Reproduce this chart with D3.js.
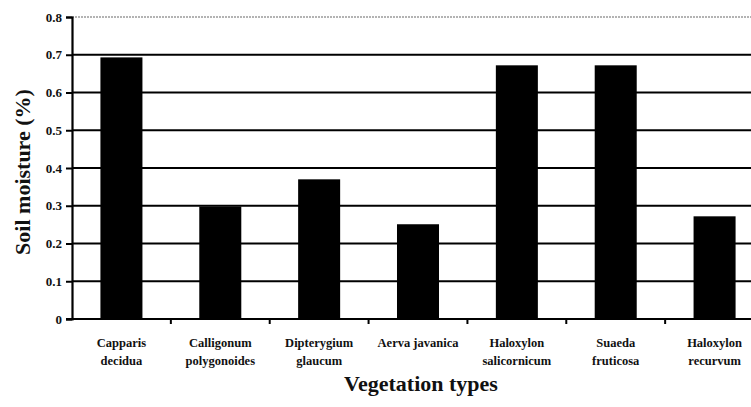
<!DOCTYPE html>
<html>
<head>
<meta charset="utf-8">
<script src="https://cdn.jsdelivr.net/npm/d3@7"></script>
<style>
  body { margin: 0; background: #fff; overflow: hidden; }
  svg { display: block; font-family: "Liberation Serif", "Times New Roman", serif; }
</style>
</head>
<body>
<svg id="chart" width="751" height="407"></svg>
<script>
const categories = [
  ['Capparis', 'decidua'],
  ['Calligonum', 'polygonoides'],
  ['Dipterygium', 'glaucum'],
  ['Aerva javanica'],
  ['Haloxylon', 'salicornicum'],
  ['Suaeda', 'fruticosa'],
  ['Haloxylon', 'recurvum']
];
const moisture = [0.693, 0.298, 0.37, 0.251, 0.672, 0.672, 0.272];
const yTicks = [0, 0.1, 0.2, 0.3, 0.4, 0.5, 0.6, 0.7, 0.8];

const margin = { top: 17, left: 72, bottom: 88 };
const height = 407 - margin.top - margin.bottom;
const plotWidth = 692; // the plot runs past the right edge of the picture

const svg = d3.select('#chart');
const g = svg.append('g')
    .attr('transform', `translate(${margin.left}, ${margin.top})`);

const xScale = d3.scaleBand()
    .domain(d3.range(categories.length))
    .range([0, plotWidth])
    .paddingInner(0.575)
    .paddingOuter(0.2875);

const yScale = d3.scaleLinear()
    .domain([0, 0.8])
    .range([height, 0]);

// grid lines
g.selectAll('.grid')
    .data(yTicks.filter(t => t > 0))
    .enter()
    .append('line')
    .attr('class', 'grid')
    .attr('x1', 0)
    .attr('x2', plotWidth)
    .attr('y1', d => yScale(d))
    .attr('y2', d => yScale(d))
    .attr('stroke', d => d === 0.8 ? '#9a9a9a' : '#000')
    .attr('stroke-width', d => d === 0.8 ? 1.5 : 2)
    .attr('stroke-dasharray', d => d === 0.8 ? '2,1' : null);

// bars
g.selectAll('.bar')
    .data(moisture)
    .enter()
    .append('rect')
    .attr('class', 'bar')
    .attr('x', (d, i) => xScale(i))
    .attr('width', xScale.bandwidth())
    .attr('y', d => yScale(d))
    .attr('height', d => height - yScale(d))
    .attr('fill', '#000');

// y axis
const yAxis = d3.axisLeft(yScale)
    .tickValues(yTicks)
    .tickFormat(d => d === 0 ? '0' : d3.format('.1f')(d))
    .tickSize(6)
    .tickPadding(4);

const yG = g.append('g').call(yAxis);
yG.select('.domain').attr('stroke', '#000').attr('stroke-width', 2.2);
yG.selectAll('.tick line').attr('stroke', '#000').attr('stroke-width', 2);
yG.selectAll('.tick text')
    .attr('font-family', 'Liberation Serif, serif')
    .attr('font-weight', 'bold')
    .attr('font-size', 13)
    .attr('fill', '#111');

// x axis baseline with ticks at category boundaries
g.append('line')
    .attr('x1', -6).attr('x2', plotWidth)
    .attr('y1', height).attr('y2', height)
    .attr('stroke', '#000').attr('stroke-width', 2.2);

const step = xScale.step();
g.selectAll('.xtick')
    .data(d3.range(1, categories.length))
    .enter()
    .append('line')
    .attr('class', 'xtick')
    .attr('x1', d => xScale(d) - xScale.paddingInner() * step / 2)
    .attr('x2', d => xScale(d) - xScale.paddingInner() * step / 2)
    .attr('y1', height)
    .attr('y2', height + 5)
    .attr('stroke', '#000')
    .attr('stroke-width', 2);

// category labels
const labels = g.selectAll('.cat')
    .data(categories)
    .enter()
    .append('text')
    .attr('class', 'cat')
    .attr('text-anchor', 'middle')
    .attr('font-family', 'Liberation Serif, serif')
    .attr('font-weight', 'bold')
    .attr('font-size', 12.5)
    .attr('fill', '#111')
    .attr('transform', (d, i) => `translate(${xScale(i) + xScale.bandwidth() / 2}, ${height + 28})`);

labels.selectAll('tspan')
    .data(d => d)
    .enter()
    .append('tspan')
    .attr('x', 0)
    .attr('dy', (d, i) => i === 0 ? 0 : 18)
    .text(d => d);

// axis titles
svg.append('text')
    .attr('x', 421)
    .attr('y', 391)
    .attr('text-anchor', 'middle')
    .attr('font-family', 'Liberation Serif, serif')
    .attr('font-weight', 'bold')
    .attr('font-size', 22)
    .attr('fill', '#111')
    .text('Vegetation types');

svg.append('text')
    .attr('transform', 'translate(30, 172) rotate(-90)')
    .attr('text-anchor', 'middle')
    .attr('font-family', 'Liberation Serif, serif')
    .attr('font-weight', 'bold')
    .attr('font-size', 22)
    .attr('fill', '#111')
    .text('Soil moisture (%)');
</script>
</body>
</html>
